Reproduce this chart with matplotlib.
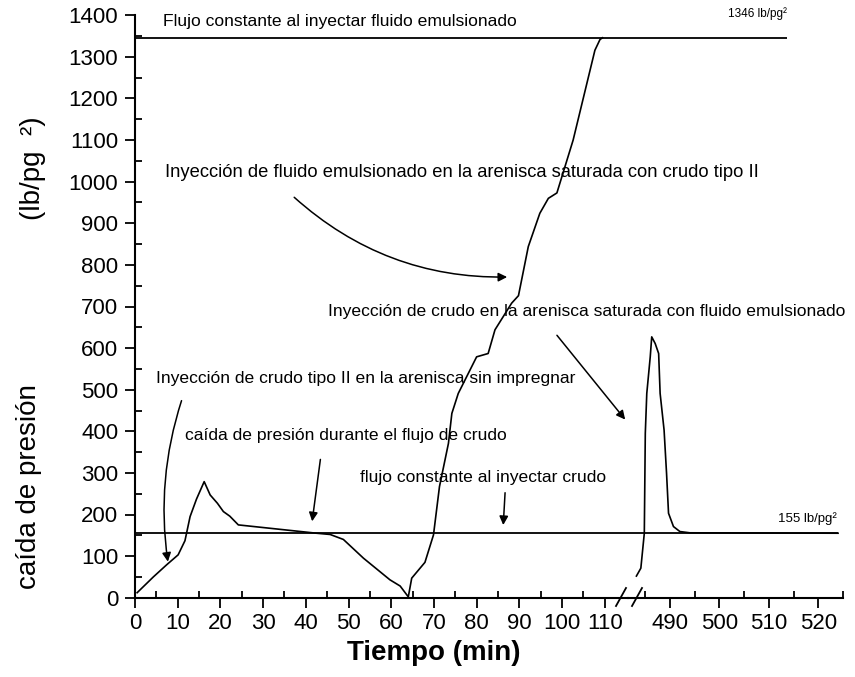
import matplotlib
matplotlib.use("Agg")
import matplotlib.pyplot as plt
from matplotlib.ticker import MultipleLocator, FixedLocator

# --------------------------------------
# datos
# --------------------------------------
# tramo 1 : 0 - 115 min
tiempo_1 = [0.5, 4.3, 7.4, 10.1, 11.7, 12.9, 14.4, 16.2, 17.6, 19.3, 20.7, 22.2, 24.2,
            42.5, 45.7, 48.8, 53.5, 59.7, 62.1, 64.0, 64.8, 67.9, 69.9, 71.3, 73.4,
            74.2, 75.7, 80.0, 82.7, 84.3, 88.2, 89.8, 92.1, 94.8, 96.8, 98.8, 102.6,
            107.7, 108.9, 109.5]
presion_1 = [12, 50, 79, 103, 137, 195, 237, 279, 247, 227, 207, 196, 175,
             155, 152, 140, 95, 43, 28, 2, 47, 85, 151, 267, 371,
             443, 491, 579, 587, 644, 708, 726, 844, 924, 960, 973, 1100,
             1316, 1342, 1346]

# tramo 2 : 480 - 525 min
tiempo_2 = [483.2, 484.1, 484.8, 485.0, 485.3, 486.0, 486.3, 487.0, 487.7, 488.0,
            488.8, 489.3, 489.7, 490.7, 492.0, 494.0, 524.0]
presion_2 = [52, 71, 155, 395, 491, 579, 627, 611, 587, 491,
             403, 299, 203, 171, 159, 156, 155]

# niveles de flujo constante
nivel_crudo = 155
nivel_emulsion = 1346

ticks_1 = [0, 10, 20, 30, 40, 50, 60, 70, 80, 90, 100, 110]
ticks_2 = [490, 500, 510, 520]

FUENTE = "Liberation Sans"
plt.rcParams['font.family'] = [FUENTE, 'DejaVu Sans']

# --------------------------------------
# figura con eje x cortado
# --------------------------------------
W, H = 855, 677
fig = plt.figure(figsize=(W / 100, H / 100), dpi=100)

x0, x_corte, x_fin = 135, 628, 843
y0, y_top = 597.7, 15.3
ax1 = fig.add_axes([x0 / W, 1 - y0 / H, (x_corte - x0) / W, (y0 - y_top) / H])
ax2 = fig.add_axes([x_corte / W, 1 - y0 / H, (x_fin - x_corte) / W, (y0 - y_top) / H], sharey=ax1)

ax1.set_xlim(0, 115.45)
ax2.set_xlim(481.5, 525)
ax1.set_ylim(0, 1400)

for ax in (ax1, ax2):
    ax.set_facecolor('none')
    ax.spines['top'].set_visible(False)
    ax.spines['right'].set_visible(False)
    for s in ax.spines.values():
        s.set_linewidth(1.5)
    ax.tick_params(axis='both', which='major', direction='out', length=7, width=1.3,
                   labelsize=16, pad=4)
    ax.tick_params(axis='both', which='minor', direction='in', length=5, width=1.3)
ax2.spines['left'].set_visible(False)
ax2.tick_params(axis='y', which='both', left=False, labelleft=False)

ax1.xaxis.set_major_locator(FixedLocator(ticks_1))
ax1.xaxis.set_minor_locator(FixedLocator([t + 5 for t in ticks_1[:-1]]))
ax2.xaxis.set_major_locator(FixedLocator(ticks_2))
ax2.xaxis.set_minor_locator(FixedLocator([485, 495, 505, 515, 525]))
ax1.yaxis.set_major_locator(MultipleLocator(100))
ax1.yaxis.set_minor_locator(MultipleLocator(50))
ax1.tick_params(axis='y', which='major', pad=5)

# curvas
ax1.plot(tiempo_1, presion_1, color='black', lw=1.2)
ax2.plot(tiempo_2, presion_2, color='black', lw=1.2)

ax1.hlines([nivel_crudo, nivel_emulsion], 0.3, 115.45, color='black', lw=1.3)
ax2.hlines(nivel_crudo, 481.5, 524, color='black', lw=1.3)
ax2.hlines(nivel_emulsion, 481.5, 513.7, color='black', lw=1.3)

# marcas de corte //
for px in (621, 637):
    fig.add_artist(plt.Line2D([(px - 5) / W, (px + 5) / W], [1 - 606 / H, 1 - 588 / H],
                              color='black', lw=1.3))

# --------------------------------------
# textos y flechas
# --------------------------------------
ts = 12.6
ax1.text(6.6, 1384, "Flujo constante al inyectar fluido emulsionado", fontsize=ts, va='center')
ax2.text(501.7, 1403, "1346 lb/pg²", fontsize=8.5, va='center', clip_on=False)
ax1.text(7.0, 1023, "Inyección de fluido emulsionado en la arenisca saturada con crudo tipo II",
         fontsize=13.2, va='center')
ax1.text(45.2, 687, "Inyección de crudo en la arenisca saturada con fluido emulsionado",
         fontsize=ts, va='center')
ax1.text(4.9, 526, "Inyección de crudo tipo II en la arenisca sin impregnar", fontsize=ts, va='center')
ax1.text(11.7, 389, "caída de presión durante el flujo de crudo", fontsize=ts, va='center')
ax1.text(52.7, 290, "flujo constante al inyectar crudo", fontsize=ts, va='center')
ax2.text(511.9, 189, "155 lb/pg²", fontsize=9.5, va='center', clip_on=False)

flecha = dict(arrowstyle='-|>', color='black', lw=1.1, mutation_scale=13)
ax1.annotate("", xy=(87.8, 771), xytext=(36.8, 967), annotation_clip=False,
             arrowprops=dict(flecha, connectionstyle="arc3,rad=0.2"))
ax1.annotate("", xy=(7.8, 80), xytext=(11.1, 480), annotation_clip=False,
             arrowprops=dict(flecha, connectionstyle="arc3,rad=0.12"))
ax1.annotate("", xy=(115.2, 423), xytext=(98.4, 636), annotation_clip=False,
             arrowprops=flecha)
ax1.annotate("", xy=(41.4, 177), xytext=(43.5, 339), annotation_clip=False,
             arrowprops=flecha)
ax1.annotate("", xy=(86.2, 168), xytext=(86.7, 259), annotation_clip=False,
             arrowprops=flecha)

# etiquetas de ejes
fig.text(434 / W, 1 - 653 / H, "Tiempo (min)", fontsize=20, fontweight='bold',
         ha='center', va='center')
fig.text(29 / W, 1 - 487 / H, "caída de presión", fontsize=20, rotation=90,
         ha='center', va='center')
fig.text(33 / W, 1 - 168 / H, "(lb/pg  ²)", fontsize=20, rotation=90,
         ha='center', va='center')

fig.savefig("out.png", dpi=100)
